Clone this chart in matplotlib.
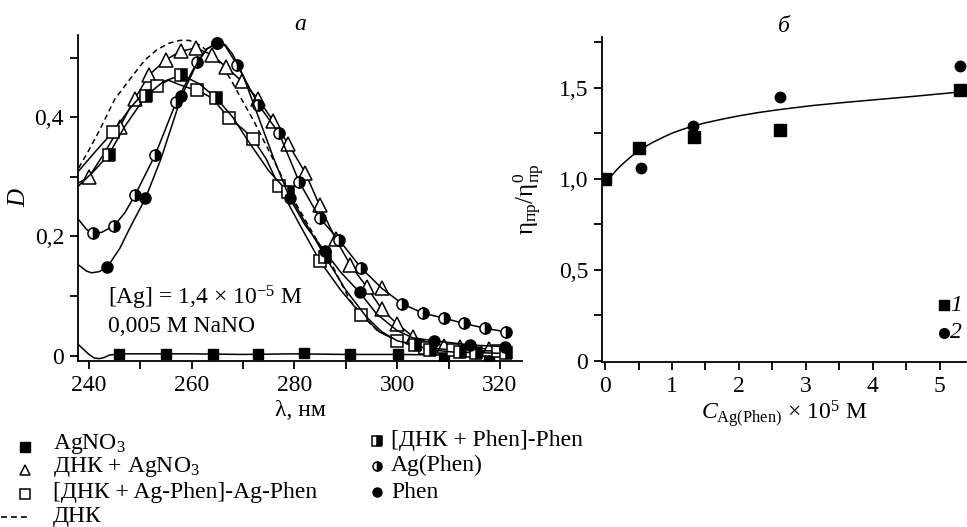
import matplotlib
matplotlib.use("Agg")
import matplotlib.pyplot as plt
import numpy as np

plt.rcParams['font.family'] = ['Liberation Serif', 'DejaVu Serif']
plt.rcParams['mathtext.fontset'] = 'custom'
plt.rcParams['mathtext.rm'] = 'Liberation Serif'
plt.rcParams['mathtext.it'] = 'Liberation Serif:italic'
plt.rcParams['mathtext.bf'] = 'Liberation Serif:bold'

FS = 17

# ---------------- Panel a: spectra ----------------
# AgNO3 (filled squares)
agno3_curve_lam = [238, 239, 240, 241, 242, 243, 244, 246, 250, 260, 270, 280, 290, 300, 310, 318, 321]
agno3_curve_D = [0.018, 0.010, 0.002, -0.004, -0.005, -0.003, 0.001, 0.003, 0.003, 0.003, 0.002, 0.003, 0.002, 0.002, 0.001, 0.000, 0.001]
agno3_mark_lam = [245.9, 254.9, 264.1, 272.9, 281.8, 290.9, 300.1, 309.1, 317.9]
agno3_mark_D = [0.003, 0.002, 0.003, 0.003, 0.004, 0.003, 0.003, -0.001, -0.002]

# DNA + AgNO3 (open triangles)
dna_ag_curve_lam = [238, 240, 243, 246, 248.9, 251.7, 254.9, 257.9, 260.8, 263.9, 266.6, 269.7, 272.9, 275.9,
                    278.8, 282.1, 284.9, 288, 290.9, 294.1, 297, 300, 303.1, 306, 309.1, 312.2, 317.9, 321]
dna_ag_curve_D = [0.29, 0.300, 0.34, 0.384, 0.431, 0.471, 0.496, 0.511, 0.516, 0.505, 0.485, 0.461, 0.431, 0.393,
                  0.355, 0.307, 0.252, 0.196, 0.152, 0.115, 0.078, 0.053, 0.032, 0.022, 0.017, 0.015, 0.011, 0.010]
dna_ag_mark_lam = [240, 246, 248.9, 251.7, 254.9, 257.9, 260.8, 263.9, 266.6, 269.7, 272.9, 275.9, 278.8, 282.1,
                   284.9, 288, 290.9, 294.1, 297, 297, 300, 303.1, 309.1, 312.2, 317.9]
dna_ag_mark_D = [0.300, 0.384, 0.431, 0.471, 0.496, 0.511, 0.516, 0.505, 0.485, 0.461, 0.431, 0.393, 0.355, 0.307,
                 0.252, 0.196, 0.152, 0.115, 0.113, 0.078, 0.053, 0.032, 0.017, 0.015, 0.011]

# [DNA + Ag-Phen]-Ag-Phen (open squares)
agphen_curve_lam = [238, 241, 244.7, 248, 250.5, 253.2, 255.5, 257.5, 259.5, 261, 264, 267.3, 270, 272, 274.5, 277,
                    281, 285, 289, 293, 296.5, 300, 303.4, 307, 312, 316, 321]
agphen_curve_D = [0.31, 0.34, 0.376, 0.415, 0.44, 0.4525, 0.462, 0.455, 0.449, 0.446, 0.432, 0.398, 0.38, 0.363,
                  0.33, 0.284, 0.22, 0.158, 0.11, 0.069, 0.04, 0.025, 0.018, 0.012, 0.009, 0.008, 0.008]
agphen_mark_lam = [244.7, 253.2, 261, 267.3, 272, 277, 285, 293, 300, 305.5, 310.9, 313.8, 319.6]
agphen_mark_D = [0.376, 0.4525, 0.446, 0.398, 0.363, 0.284, 0.158, 0.069, 0.025, 0.012, 0.009, 0.008, 0.008]

# [DNA + Phen]-Phen (half-filled squares)
phenphen_curve_lam = [238, 241, 243.8, 247, 251.1, 254.5, 258, 261.5, 264.8, 268, 271, 275, 278.8, 282, 286, 290,
                      294, 297, 300, 303.4, 306.3, 310.9, 315.7, 319.6, 321]
phenphen_curve_D = [0.285, 0.31, 0.337, 0.385, 0.436, 0.46, 0.471, 0.456, 0.432, 0.40, 0.36, 0.31, 0.274, 0.225,
                    0.166, 0.11, 0.065, 0.04, 0.025, 0.018, 0.010, 0.006, 0.005, 0.004, 0.004]
phenphen_mark_lam = [243.8, 251.1, 258, 264.8, 278.8, 286, 303.4, 306.3, 312.3, 315.4, 321.2]
phenphen_mark_D = [0.337, 0.436, 0.471, 0.432, 0.274, 0.166, 0.018, 0.010, 0.006, 0.005, 0.004]

# Ag(Phen) (half-filled circles)
agp_curve_lam = [238, 239.5, 240.8, 242.5, 244.9, 247, 249, 252.9, 257, 261, 263, 265, 266.5, 268.9, 273, 277, 280.9,
                 284.9, 288.7, 293, 297, 301, 305.1, 309.1, 313, 317.1, 321.1]
agp_curve_D = [0.228, 0.212, 0.205, 0.207, 0.218, 0.24, 0.270, 0.337, 0.426, 0.492, 0.515, 0.524, 0.52, 0.487, 0.421,
               0.373, 0.292, 0.231, 0.194, 0.147, 0.113, 0.087, 0.071, 0.063, 0.054, 0.046, 0.040]
agp_mark_lam = [240.8, 244.9, 249, 252.9, 257, 261, 265, 268.9, 273, 277, 280.9, 284.9, 288.7, 293, 301, 305.1,
                309.1, 313, 317.1, 321.1]
agp_mark_D = [0.205, 0.218, 0.270, 0.337, 0.426, 0.492, 0.524, 0.487, 0.421, 0.373, 0.292, 0.231, 0.194, 0.147,
              0.087, 0.071, 0.063, 0.054, 0.046, 0.040]

# Phen (filled circles)
phen_curve_lam = [238, 239.5, 240.5, 242, 243.6, 246, 248, 251, 254, 258, 261, 263, 265, 266.5, 268, 270, 273, 276,
                  279.1, 282, 285.9, 289, 292.7, 296, 300, 303, 307.1, 314.1, 320.9]
phen_curve_D = [0.152, 0.142, 0.139, 0.141, 0.149, 0.18, 0.215, 0.264, 0.33, 0.435, 0.49, 0.515, 0.525, 0.522, 0.505,
                0.47, 0.40, 0.33, 0.264, 0.22, 0.175, 0.14, 0.106, 0.07, 0.042, 0.03, 0.025, 0.018, 0.015]
phen_mark_lam = [243.6, 251, 258, 265, 279.1, 285.9, 292.7, 307.1, 314.1, 320.9]
phen_mark_D = [0.149, 0.264, 0.435, 0.525, 0.264, 0.175, 0.106, 0.025, 0.018, 0.015]

# DNA (dashed)
dna_curve_lam = [238, 240, 242.1, 245, 248.6, 251, 253.2, 255.5, 257.7, 259.5, 261.6, 263.5, 265.5, 267.5, 269.4, 272,
                 274.6, 277, 279.1, 281.5, 283.6, 285.5, 287.5, 290.8, 293.5, 296, 300, 305, 310, 315, 321]
dna_curve_D = [0.315, 0.345, 0.379, 0.43, 0.471, 0.497, 0.513, 0.524, 0.529, 0.529, 0.521, 0.508, 0.491, 0.465, 0.435,
               0.395, 0.351, 0.31, 0.272, 0.237, 0.205, 0.177, 0.149, 0.093, 0.065, 0.043, 0.025, 0.015, 0.01, 0.008,
               0.007]

# ---------------- Panel b: viscosity ----------------
c_sq = [0.0, 0.5, 1.33, 2.62, 5.3]
eta_sq = [1.0, 1.167, 1.23, 1.27, 1.487]
c_ci = [0.53, 1.32, 2.62, 5.3]
eta_ci = [1.06, 1.29, 1.45, 1.62]
fit_c = [0.0, 0.05, 0.1, 0.16, 0.22, 0.3, 0.4, 0.5, 0.6, 0.7, 0.87, 1.0, 1.15, 1.32, 1.5, 1.75, 2.01, 2.3, 2.61,
         3.1, 3.61, 4.1, 4.6, 5.0, 5.4]
fit_eta = [0.978, 0.996, 1.018, 1.043, 1.066, 1.093, 1.125, 1.152, 1.176, 1.197, 1.228, 1.25, 1.27, 1.29, 1.307,
           1.327, 1.346, 1.364, 1.38, 1.402, 1.42, 1.436, 1.452, 1.466, 1.48]

W, H = 967, 527
fig = plt.figure(figsize=(W / 100, H / 100), dpi=100)

ax1 = fig.add_axes([78 / W, 1 - 361 / H, (522 - 78) / W, (361 - 35) / H])
ax2 = fig.add_axes([602 / W, 1 - 361.7 / H, (966 - 602) / W, (361.7 - 36.7) / H])

lw = 1.1
ms = 8
k = 'black'
dash = (0, (3.5, 2.5))

ax1.plot(dna_curve_lam, dna_curve_D, color=k, lw=lw, ls=dash)
ax1.plot(agno3_curve_lam, agno3_curve_D, color=k, lw=lw)
ax1.plot(agno3_mark_lam, agno3_mark_D, ls='none', marker='s', ms=ms - 0.5, mfc=k, mec=k)
ax1.plot(dna_ag_curve_lam, dna_ag_curve_D, color=k, lw=lw)
ax1.plot(dna_ag_mark_lam, dna_ag_mark_D, ls='none', marker='^', ms=ms + 2, mfc='white', mec=k, mew=1.1)
ax1.plot(agphen_curve_lam, agphen_curve_D, color=k, lw=lw)
ax1.plot(agphen_mark_lam, agphen_mark_D, ls='none', marker='s', ms=ms, mfc='white', mec=k, mew=1.1)
ax1.plot(phenphen_curve_lam, phenphen_curve_D, color=k, lw=lw)
ax1.plot(phenphen_mark_lam, phenphen_mark_D, ls='none', marker='s', ms=ms, mfc=k, mfcalt='white',
         fillstyle='right', mec=k, mew=1.1)
ax1.plot(agp_curve_lam, agp_curve_D, color=k, lw=lw)
ax1.plot(agp_mark_lam, agp_mark_D, ls='none', marker='o', ms=ms, mfc=k, mfcalt='white',
         fillstyle='right', mec=k, mew=1.1)
ax1.plot(phen_curve_lam, phen_curve_D, color=k, lw=lw)
ax1.plot(phen_mark_lam, phen_mark_D, ls='none', marker='o', ms=ms, mfc=k, mec=k)

ax1.set_xlim(237.86, 324.3)
ax1.set_ylim(-0.009, 0.538)
ax1.set_xticks(np.arange(240, 321, 10))
ax1.set_xticklabels(['240', '', '260', '', '280', '', '300', '', '320'])
ax1.set_yticks([0, 0.1, 0.2, 0.3, 0.4, 0.5])
ax1.set_yticklabels(['0', '', '0,2', '', '0,4', ''])
ax1.set_xlabel('λ, нм', fontsize=FS, labelpad=3)
ax1.set_ylabel('D', fontsize=FS + 1, style='italic')
ax1.yaxis.set_label_coords(-0.108, 0.5)
ax1.set_title('а', fontsize=FS, style='italic', pad=3)
ax1.text(243.7, 0.085, '[Ag] = 1,4 × 10$^{-5}$ M', fontsize=FS, va='baseline')
ax1.text(243.7, 0.040, '0,005 M NaNO', fontsize=FS, va='baseline')

ax2.plot(fit_c, fit_eta, color=k, lw=lw)
ax2.plot(c_sq, eta_sq, ls='none', marker='s', ms=ms, mfc=k, mec=k)
ax2.plot(c_ci, eta_ci, ls='none', marker='o', ms=ms - 0.5, mfc=k, mec=k)
ax2.plot([5.06], [0.306], ls='none', marker='s', ms=ms - 0.5, mfc=k, mec=k)
ax2.plot([5.06], [0.154], ls='none', marker='o', ms=ms - 1, mfc=k, mec=k)
ax2.text(5.15, 0.306, '1', fontsize=FS, style='italic', va='center')
ax2.text(5.15, 0.154, '2', fontsize=FS, style='italic', va='center')
ax2.set_xlim(-0.045, 5.39)
ax2.set_ylim(-0.005, 1.78)
ax2.set_xticks(np.arange(0, 5.01, 0.5))
ax2.set_xticklabels(['0', '', '1', '', '2', '', '3', '', '4', '', '5'])
ax2.set_yticks(np.arange(0, 1.76, 0.25))
ax2.set_yticklabels(['0', '', '0,5', '', '1,0', '', '1,5', ''])
ax2.set_xlabel(r'$C_{\rm Ag(Phen)}$ × 10$^5$ M', fontsize=FS, labelpad=1)
ax2.set_ylabel(r'$\mathrm{η_{пр}/η^{0}_{пр}}$', fontsize=FS + 1)
ax2.yaxis.set_label_coords(-0.155, 0.5)
ax2.set_title('б', fontsize=FS, style='italic', pad=3)

for ax in (ax1, ax2):
    for s in ('top', 'right'):
        ax.spines[s].set_visible(False)
    for s in ('left', 'bottom'):
        ax.spines[s].set_linewidth(1.3)
    ax.tick_params(direction='out', length=6, width=1.3, labelsize=FS, pad=4)

# legend block below the panels (pixel coordinates)
lg = fig.add_axes([0, 0, 1, 1], zorder=-1)
lg.set_xlim(0, W)
lg.set_ylim(H, 0)
lg.axis('off')
lms = 6.5
lg.plot([25], [447], ls='none', marker='s', ms=lms, mfc=k, mec=k)
lg.plot([25], [470], ls='none', marker='^', ms=lms + 1, mfc='white', mec=k, mew=1.1)
lg.plot([25], [494], ls='none', marker='s', ms=lms, mfc='white', mec=k, mew=1.1)
lg.plot([1, 28], [517, 517], color=k, lw=1.2, ls=(0, (3.5, 2.5)))
lg.plot([377], [441], ls='none', marker='s', ms=lms, mfc=k, mfcalt='white', fillstyle='right', mec=k, mew=1.1)
lg.plot([377], [466], ls='none', marker='o', ms=lms, mfc=k, mfcalt='white', fillstyle='right', mec=k, mew=1.1)
lg.plot([377], [492], ls='none', marker='o', ms=lms, mfc=k, mec=k)
col1_labels = ['AgNO$_3$', 'ДНК + AgNO$_3$', '[ДНК + Ag-Phen]-Ag-Phen', 'ДНК']
col1_base = [449, 472, 498, 522]
for t, yb in zip(col1_labels, col1_base):
    lg.text(53, yb, t, fontsize=FS, va='baseline', ha='left')
col2_labels = ['[ДНК + Phen]-Phen', 'Ag(Phen)', 'Phen']
col2_base = [446, 471, 498]
for t, yb in zip(col2_labels, col2_base):
    lg.text(391, yb, t, fontsize=FS, va='baseline', ha='left')

fig.savefig('out.png', dpi=100)
